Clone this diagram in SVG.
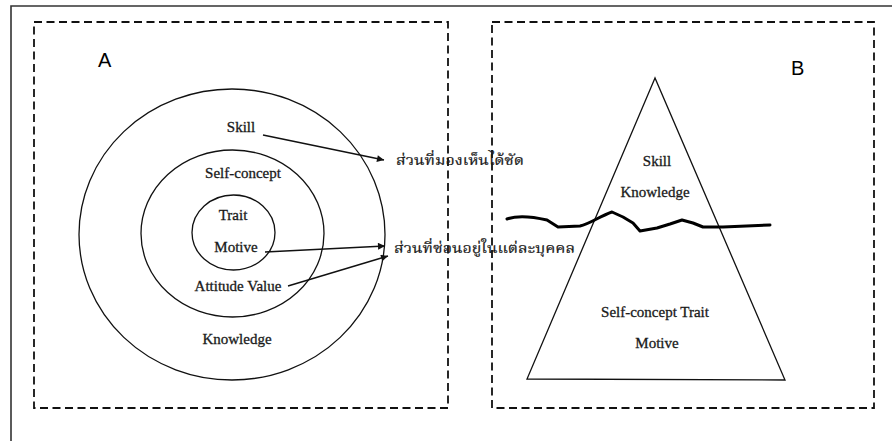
<svg xmlns="http://www.w3.org/2000/svg" width="892" height="441" viewBox="0 0 892 441">
  <defs>
    <marker id="arrow" viewBox="0 0 10 10" refX="10" refY="5" markerWidth="9" markerHeight="7" markerUnits="userSpaceOnUse" orient="auto">
      <path d="M0,0 L10,5 L0,10 z" fill="#111"/>
    </marker>
    <style>
      .frame { fill: none; stroke: #333; stroke-width: 1.6; }
      .dash { fill: none; stroke: #111; stroke-width: 1.8; stroke-dasharray: 8 4.5; }
      .ring { fill: none; stroke: #111; stroke-width: 1.3; }
      .tri { fill: #fff; stroke: #111; stroke-width: 1.3; }
      .lbl { font-family: "Liberation Serif", "Times New Roman", serif; font-size: 15px; fill: #1a1a1a; stroke: #1a1a1a; stroke-width: 0.3; text-anchor: middle; }
      .thai { font-family: "Noto Serif Thai", "Noto Sans Thai", "Loma", "Garuda", "Tlwg Typo", "DejaVu Sans", sans-serif; font-size: 14px; fill: #1a1a1a; stroke: #1a1a1a; stroke-width: 0.2; }
      .panel { font-family: "Liberation Sans", Arial, sans-serif; font-size: 20px; fill: #000; }
      .conn { fill: none; stroke: #111; stroke-width: 1.4; marker-end: url(#arrow); }
    </style>
  </defs>

  <rect width="892" height="441" fill="#fff"/>

  <!-- outer frame (top and left edges) -->
  <path class="frame" d="M11,441 V6 H892"/>

  <!-- panel A -->
  <g id="panel-a">
    <rect class="dash" x="34" y="22" width="414" height="386"/>
    <text class="panel" x="98" y="67">A</text>
  </g>

  <!-- panel B -->
  <g id="panel-b">
    <rect class="dash" x="492" y="22" width="382" height="386"/>
    <text class="panel" x="791" y="75">B</text>
  </g>

  <!-- concentric model -->
  <g id="ring-outer">
    <ellipse class="ring" cx="232" cy="234.5" rx="153" ry="145.5"/>
    <text class="lbl" x="241" y="132">Skill</text>
    <text class="lbl" x="237" y="344">Knowledge</text>
  </g>
  <g id="ring-middle">
    <ellipse class="ring" cx="232.5" cy="233.5" rx="91.5" ry="83.5"/>
    <text class="lbl" x="243" y="178">Self-concept</text>
    <text class="lbl" x="238" y="291">Attitude  Value</text>
  </g>
  <g id="ring-inner">
    <ellipse class="ring" cx="233.5" cy="232.5" rx="41.5" ry="37.5"/>
    <text class="lbl" x="233" y="220">Trait</text>
    <text class="lbl" x="236" y="252">Motive</text>
  </g>

  <g id="label-visible">
    <text class="thai" x="396" y="165" textLength="128" lengthAdjust="spacingAndGlyphs">ส่วนที่มองเห็นได้ชัด</text>
  </g>
  <g id="label-hidden">
    <text class="thai" x="394" y="253" textLength="181" lengthAdjust="spacingAndGlyphs">ส่วนที่ซ่อนอยู่ในแต่ละบุคคล</text>
  </g>

  <!-- iceberg model -->
  <g id="iceberg">
    <polygon class="tri" points="655,78 527,379 785,380"/>
    <text class="lbl" x="657" y="166">Skill</text>
    <text class="lbl" x="655" y="197">Knowledge</text>
    <text class="lbl" x="655" y="317">Self-concept Trait</text>
    <text class="lbl" x="657" y="348">Motive</text>
  </g>

  <g id="waterline">
    <path fill="none" stroke="#000" stroke-width="3" stroke-linejoin="round" stroke-linecap="round"
      d="M507,219 C515,216 530,216 547,220 L558,227 L580,226 C590,224 600,216 612,212 L623,217 L633,223 L640,231 L657,228 L670,224 L682,220 L693,223 L703,227 L723,227 L770,225"/>
  </g>

  <!-- connectors -->
  <g id="connectors">
    <path class="conn" d="M263,135 L384,160"/>
    <path class="conn" d="M265,252 L385,246"/>
    <path class="conn" d="M288,286 L388,256"/>
  </g>
</svg>
